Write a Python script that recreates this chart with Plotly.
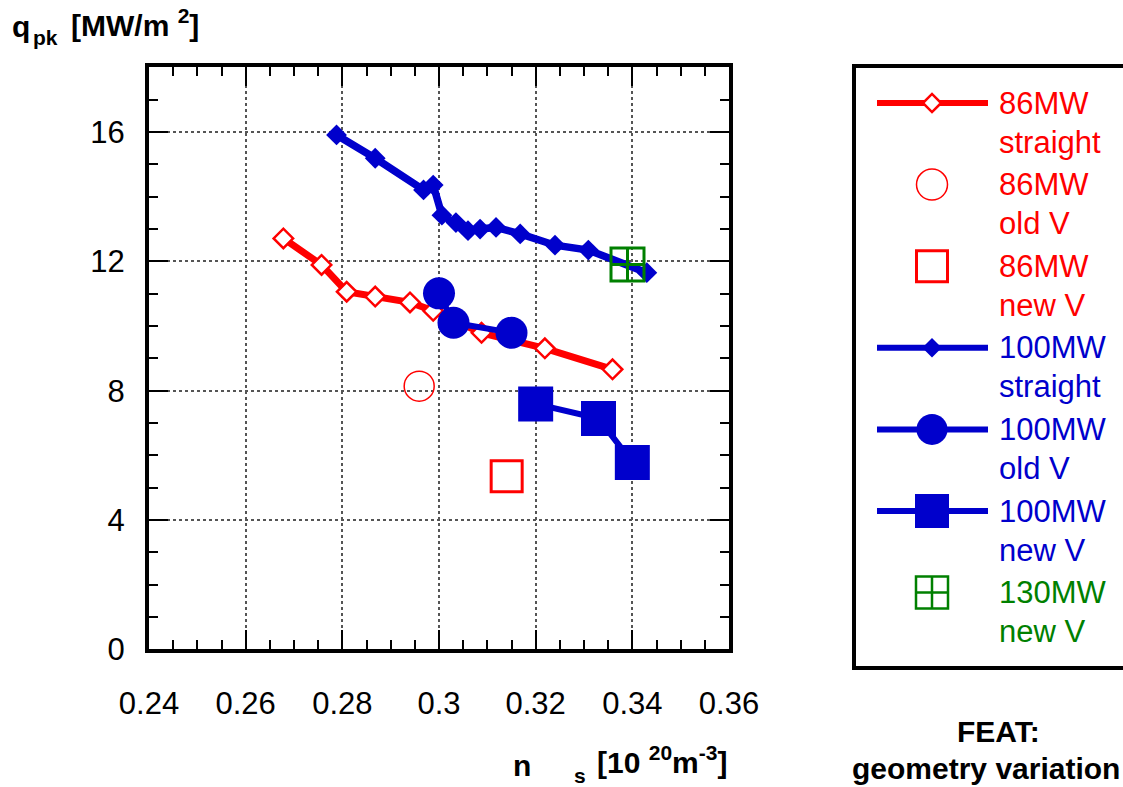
import plotly.graph_objects as go

# ---- data: peak heat flux q_pk [MW/m^2] vs separatrix density n_s [1e20 m^-3] ----
ns_86_straight = [0.2678, 0.2757, 0.2809, 0.2868, 0.2940, 0.2988, 0.3088, 0.3219, 0.3359]
q_86_straight = [12.71, 11.89, 11.06, 10.91, 10.73, 10.47, 9.79, 9.31, 8.66]

ns_86_oldv = [0.2959]
q_86_oldv = [8.14]

ns_86_newv = [0.3140]
q_86_newv = [5.35]

ns_100_straight = [0.2788, 0.2868, 0.2968, 0.2988, 0.3006, 0.3035, 0.3060, 0.3085,
                   0.3118, 0.3168, 0.3240, 0.3309, 0.3430]
q_100_straight = [15.91, 15.19, 14.21, 14.36, 13.43, 13.20, 12.95, 13.00,
                  13.05, 12.85, 12.50, 12.35, 11.65]

ns_100_oldv = [0.3000, 0.3030, 0.3150]
q_100_oldv = [11.01, 10.10, 9.79]

ns_100_newv = [0.3200, 0.3330, 0.3400]
q_100_newv = [7.59, 7.14, 5.78]

ns_130_newv = [0.3390]
q_130_newv = [11.90]

x_tick_vals = [0.24, 0.26, 0.28, 0.30, 0.32, 0.34, 0.36]
y_tick_vals = [0, 4, 8, 12, 16]

legend_labels = [
    ("86MW", "straight"),
    ("86MW", "old V"),
    ("86MW", "new V"),
    ("100MW", "straight"),
    ("100MW", "old V"),
    ("100MW", "new V"),
    ("130MW", "new V"),
]

RED = "#FF0000"
BLUE = "#0000CC"
GREEN = "#008000"
FONT = "Liberation Sans, Arial, sans-serif"

# ---- page geometry (pixels) ----
W, H = 1123, 787
M_L, M_R, M_T, M_B = 149, 0, 60, 115
PW = W - M_L - M_R
PH = H - M_T - M_B
PLOT_X0, PLOT_X1 = 149, 729
PLOT_Y0, PLOT_Y1 = 67.4, 649.3


def px_x(p):
    return (p - M_L) / PW


def px_y(p):
    return (H - M_B - p) / PH


fig = go.Figure()

# main traces
fig.add_trace(go.Scatter(
    x=ns_86_straight, y=q_86_straight, mode="lines+markers",
    line=dict(color=RED, width=7),
    marker=dict(symbol="diamond", size=15, color="white", line=dict(color=RED, width=2.5)),
))
fig.add_trace(go.Scatter(
    x=ns_86_oldv, y=q_86_oldv, mode="markers",
    marker=dict(symbol="circle", size=30, color="rgba(0,0,0,0)", line=dict(color=RED, width=1.5)),
))
fig.add_trace(go.Scatter(
    x=ns_86_newv, y=q_86_newv, mode="markers",
    marker=dict(symbol="square", size=31, color="rgba(0,0,0,0)", line=dict(color=RED, width=3)),
))
fig.add_trace(go.Scatter(
    x=ns_100_straight, y=q_100_straight, mode="lines+markers",
    line=dict(color=BLUE, width=7.5),
    marker=dict(symbol="diamond", size=16, color=BLUE, line=dict(width=0)),
))
fig.add_trace(go.Scatter(
    x=ns_100_oldv, y=q_100_oldv, mode="lines+markers",
    line=dict(color=BLUE, width=6),
    marker=dict(symbol="circle", size=32, color=BLUE, line=dict(width=0)),
))
fig.add_trace(go.Scatter(
    x=ns_100_newv, y=q_100_newv, mode="lines+markers",
    line=dict(color=BLUE, width=6),
    marker=dict(symbol="square", size=35, color=BLUE, line=dict(width=0)),
))
fig.add_trace(go.Scatter(
    x=ns_130_newv, y=q_130_newv, mode="markers",
    marker=dict(symbol="square-cross-open", size=33, color=GREEN, line=dict(color=GREEN, width=3)),
))

# ---- hand-built legend on its own pixel-unit axes ----
LEG_X0 = 854
LEG_Y_TOP, LEG_Y_BOT = 66, 668
row_y0, row_step, line2_dy = 103, 81.6, 39
key_x0, key_x1, key_xc, text_x = 877, 988, 932, 997

key_styles = [
    dict(line=True, color=RED, marker=dict(symbol="diamond", size=14, color="white", line=dict(color=RED, width=2.5))),
    dict(line=False, color=RED, marker=dict(symbol="circle", size=31, color="rgba(0,0,0,0)", line=dict(color=RED, width=1.5))),
    dict(line=False, color=RED, marker=dict(symbol="square", size=31, color="rgba(0,0,0,0)", line=dict(color=RED, width=3))),
    dict(line=True, color=BLUE, marker=dict(symbol="diamond", size=15, color=BLUE, line=dict(width=0))),
    dict(line=True, color=BLUE, marker=dict(symbol="circle", size=31, color=BLUE, line=dict(width=0))),
    dict(line=True, color=BLUE, marker=dict(symbol="square", size=34, color=BLUE, line=dict(width=0))),
    dict(line=False, color=GREEN, marker=dict(symbol="square-cross-open", size=32, color=GREEN, line=dict(color=GREEN, width=2.5))),
]
text_colors = [RED, RED, RED, BLUE, BLUE, BLUE, GREEN]

annotations = []
for i, (style, (l1, l2)) in enumerate(zip(key_styles, legend_labels)):
    ry = row_y0 + i * row_step
    if style["line"]:
        fig.add_trace(go.Scatter(
            x=[key_x0, key_x1], y=[ry, ry], mode="lines",
            line=dict(color=style["color"], width=6),
            xaxis="x2", yaxis="y2", cliponaxis=False, hoverinfo="skip",
        ))
    fig.add_trace(go.Scatter(
        x=[key_xc], y=[ry], mode="markers", marker=style["marker"],
        xaxis="x2", yaxis="y2", cliponaxis=False, hoverinfo="skip",
    ))
    for txt, yy in ((l1, ry), (l2, ry + line2_dy)):
        annotations.append(dict(
            x=text_x, y=yy, xref="x2", yref="y2", text=txt, showarrow=False,
            xanchor="left", yanchor="middle",
            font=dict(family=FONT, size=31, color=text_colors[i]),
        ))

# axis titles and caption
BOLD = dict(family=FONT, size=30, color="black")
SUB = dict(family=FONT, size=21, color="black")
annotations += [
    dict(x=px_x(10), y=px_y(27), xref="paper", yref="paper", text="<b>q</b>",
         showarrow=False, xanchor="left", yanchor="middle", font=BOLD),
    dict(x=px_x(31), y=px_y(38), xref="paper", yref="paper", text="<b>pk</b>",
         showarrow=False, xanchor="left", yanchor="middle", font=SUB),
    dict(x=px_x(69), y=px_y(23), xref="paper", yref="paper", text="<b>[MW/m <sup>2</sup>]</b>",
         showarrow=False, xanchor="left", yanchor="middle", font=BOLD),
    dict(x=px_x(511), y=px_y(766), xref="paper", yref="paper", text="<b>n</b>",
         showarrow=False, xanchor="left", yanchor="middle", font=BOLD),
    dict(x=px_x(572), y=px_y(775), xref="paper", yref="paper", text="<b>s</b>",
         showarrow=False, xanchor="left", yanchor="middle", font=SUB),
    dict(x=px_x(595), y=px_y(760), xref="paper", yref="paper", text="<b>[10 <sup>20</sup>m<sup>-3</sup>]</b>",
         showarrow=False, xanchor="left", yanchor="middle", font=BOLD),
    dict(x=px_x(998), y=px_y(731), xref="paper", yref="paper", text="<b>FEAT:</b>",
         showarrow=False, xanchor="center", yanchor="middle", font=BOLD),
    dict(x=px_x(850), y=px_y(769), xref="paper", yref="paper", text="<b>geometry variation</b>",
         showarrow=False, xanchor="left", yanchor="middle", font=BOLD),
]

# legend frame: left, top and bottom edges; it runs on past the right page edge
lx0, lx1 = px_x(LEG_X0), px_x(W)
ly_top, ly_bot = px_y(LEG_Y_TOP), px_y(LEG_Y_BOT)
shapes = [
    dict(type="line", xref="paper", yref="paper", x0=lx0, x1=lx0, y0=ly_bot, y1=ly_top,
         line=dict(color="black", width=4)),
    dict(type="line", xref="paper", yref="paper", x0=lx0 - 2 / PW, x1=lx1, y0=ly_top, y1=ly_top,
         line=dict(color="black", width=4)),
    dict(type="line", xref="paper", yref="paper", x0=lx0 - 2 / PW, x1=lx1, y0=ly_bot, y1=ly_bot,
         line=dict(color="black", width=4)),
]

axis_common = dict(
    showline=True, linecolor="black", linewidth=4, mirror="allticks",
    ticks="inside", ticklen=19, tickwidth=2, tickcolor="black",
    showgrid=True, gridcolor="#555555", gridwidth=2, griddash="dot",
    zeroline=False, automargin=False,
    tickfont=dict(family=FONT, size=31, color="black"),
)

fig.update_layout(
    width=W, height=H, autosize=False,
    margin=dict(l=M_L, r=M_R, t=M_T, b=M_B, autoexpand=False),
    paper_bgcolor="white", plot_bgcolor="white",
    showlegend=False,
    xaxis=dict(
        domain=[0, (PLOT_X1 - M_L) / PW], range=[0.24, 0.36],
        tickvals=x_tick_vals, ticktext=[f"{v:g}" for v in x_tick_vals],
        ticklabelstandoff=23,
        minor=dict(dtick=0.005, tick0=0.24, ticks="inside", ticklen=9, tickwidth=2,
                   tickcolor="black", showgrid=False),
        **axis_common,
    ),
    yaxis=dict(
        domain=[px_y(PLOT_Y1), px_y(PLOT_Y0)], range=[0, 18],
        tickvals=y_tick_vals, ticklabelstandoff=14,
        minor=dict(dtick=1, tick0=0, ticks="inside", ticklen=9, tickwidth=2,
                   tickcolor="black", showgrid=False),
        **axis_common,
    ),
    xaxis2=dict(domain=[px_x(LEG_X0), 1], range=[LEG_X0, W], visible=False,
                fixedrange=True, automargin=False),
    yaxis2=dict(domain=[0, 1], range=[H - M_B, M_T], visible=False, fixedrange=True,
                anchor="x2", automargin=False),
    annotations=annotations,
    shapes=shapes,
)

page_css = (
    "document.documentElement.style.overflow='hidden';"
    "document.body.style.overflow='hidden';"
    "document.body.style.margin='0';"
)

fig.write_html(
    "out.html",
    config={"displayModeBar": False, "responsive": False},
    post_script=page_css,
)
